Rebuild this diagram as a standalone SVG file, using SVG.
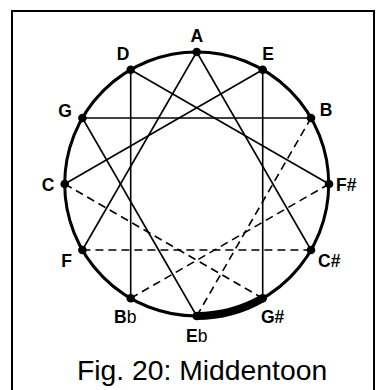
<svg xmlns="http://www.w3.org/2000/svg" width="380" height="390" viewBox="0 0 380 390">
<style>
.ln{stroke:#000;stroke-width:1.6;fill:none}
.ds{stroke:#000;stroke-width:1.6;fill:none;stroke-dasharray:8 5}
.lb{font-family:"Liberation Sans",Arial,sans-serif;font-size:17.5px;font-weight:bold;fill:#000}
.fl{font-weight:normal}
.dot{fill:#000}
</style>
<rect x="0" y="0" width="380" height="390" fill="#fff"/>
<rect x="12" y="11" width="362" height="400" fill="none" stroke="#000" stroke-width="2"/>
<circle cx="196.7" cy="184" r="132" fill="none" stroke="#000" stroke-width="3"/>
<path d="M196.7,316 A132,132 0 0 0 262.7,298.3" fill="none" stroke="#000" stroke-width="8"/>
<g id="connectors">
<line class="ln" x1="130.7" y1="69.7" x2="130.7" y2="298.3"/>
<line class="ln" x1="262.7" y1="69.7" x2="262.7" y2="298.3"/>
<line class="ln" x1="82.4" y1="118" x2="311" y2="118"/>
<line class="ln" x1="130.7" y1="69.7" x2="329" y2="184"/>
<line class="ln" x1="262.7" y1="69.7" x2="64.7" y2="184"/>
<line class="ln" x1="196.7" y1="52" x2="82.4" y2="250"/>
<line class="ln" x1="196.7" y1="52" x2="311" y2="250"/>
<line class="ln" x1="82.4" y1="118" x2="196.7" y2="316"/>
<line class="ds" x1="64.7" y1="184" x2="262.7" y2="298.3"/>
<line class="ds" x1="82.4" y1="250" x2="311" y2="250"/>
<line class="ds" x1="130.7" y1="298.3" x2="329" y2="184"/>
<line class="ds" x1="196.7" y1="316" x2="311" y2="118"/>
</g>
<g id="A"><circle class="dot" cx="196.7" cy="52" r="4.3"/><text class="lb" x="196.7" y="42" text-anchor="middle">A</text></g>
<g id="E"><circle class="dot" cx="262.7" cy="69.7" r="4.3"/><text class="lb" x="268" y="60" text-anchor="middle">E</text></g>
<g id="B"><circle class="dot" cx="311" cy="118" r="4.3"/><text class="lb" x="326" y="116" text-anchor="middle">B</text></g>
<g id="Fs"><circle class="dot" cx="329" cy="184" r="4.3"/><text class="lb" x="336" y="191">F#</text></g>
<g id="Cs"><circle class="dot" cx="311" cy="250" r="4.3"/><text class="lb" x="318" y="267">C#</text></g>
<g id="Gs"><circle class="dot" cx="262.7" cy="298.3" r="4.3"/><text class="lb" x="261" y="323">G#</text></g>
<g id="Eb"><circle class="dot" cx="196.7" cy="316" r="4.3"/><text class="lb" x="196.7" y="342" text-anchor="middle">E<tspan class="fl">b</tspan></text></g>
<g id="Bb"><circle class="dot" cx="130.7" cy="298.3" r="4.3"/><text class="lb" x="114" y="323">B<tspan class="fl">b</tspan></text></g>
<g id="F"><circle class="dot" cx="82.4" cy="250" r="4.3"/><text class="lb" x="66.7" y="267" text-anchor="middle">F</text></g>
<g id="C"><circle class="dot" cx="64.7" cy="184" r="4.3"/><text class="lb" x="48" y="191" text-anchor="middle">C</text></g>
<g id="G"><circle class="dot" cx="82.4" cy="118" r="4.3"/><text class="lb" x="65" y="117" text-anchor="middle">G</text></g>
<g id="D"><circle class="dot" cx="130.7" cy="69.7" r="4.3"/><text class="lb" x="123" y="60" text-anchor="middle">D</text></g>
<text x="77" y="380" font-family="'Liberation Sans',Arial,sans-serif" font-size="28.3" fill="#000">Fig. 20: Middentoon</text>
</svg>
